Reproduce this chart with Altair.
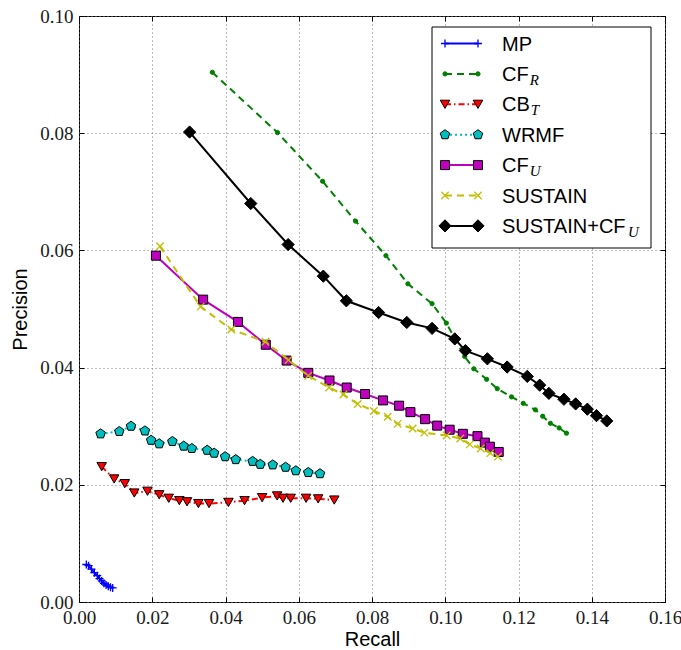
import altair as alt
import pandas as pd

# ---------------- data ----------------
mp_recall = [0.0020, 0.0026, 0.0034, 0.0042, 0.0050, 0.0056, 0.0062, 0.0068, 0.0074, 0.0080, 0.0086, 0.0092]
mp_prec = [0.0064, 0.0062, 0.0056, 0.0050, 0.0045, 0.0040, 0.0036, 0.0032, 0.0029, 0.0027, 0.0025, 0.0024]

cfr_recall = [0.0364, 0.0542, 0.0665, 0.0755, 0.0838, 0.0898, 0.0964, 0.1003, 0.1053, 0.1078,
              0.1113, 0.1142, 0.1181, 0.1213, 0.1246, 0.1266, 0.1287, 0.1311, 0.1331]
cfr_prec = [0.0904, 0.0801, 0.0718, 0.0650, 0.0591, 0.0543, 0.0509, 0.0476, 0.0419, 0.0398,
            0.0380, 0.0364, 0.0350, 0.0339, 0.0328, 0.0317, 0.0305, 0.0297, 0.0288]

cbt_recall = [0.0062, 0.0096, 0.0125, 0.0151, 0.0187, 0.0219, 0.0245, 0.0274, 0.0295, 0.0326,
              0.0355, 0.0408, 0.0452, 0.0500, 0.0541, 0.0557, 0.0578, 0.0620, 0.0653, 0.0697]
cbt_prec = [0.0231, 0.0210, 0.0202, 0.0186, 0.0189, 0.0183, 0.0177, 0.0173, 0.0171, 0.0168,
            0.0168, 0.0170, 0.0173, 0.0178, 0.0181, 0.0177, 0.0177, 0.0177, 0.0176, 0.0174]

wrmf_recall = [0.0059, 0.0110, 0.0142, 0.0180, 0.0197, 0.0219, 0.0255, 0.0286, 0.0308, 0.0350,
               0.0369, 0.0399, 0.0428, 0.0474, 0.0495, 0.0529, 0.0564, 0.0592, 0.0626, 0.0658]
wrmf_prec = [0.0287, 0.0291, 0.0300, 0.0292, 0.0276, 0.0270, 0.0274, 0.0266, 0.0262, 0.0259,
             0.0254, 0.0248, 0.0243, 0.0240, 0.0235, 0.0234, 0.0230, 0.0224, 0.0221, 0.0219]

cfu_recall = [0.0210, 0.0339, 0.0434, 0.0510, 0.0567, 0.0626, 0.0684, 0.0731, 0.0781, 0.0830,
              0.0874, 0.0905, 0.0945, 0.0978, 0.1012, 0.1048, 0.1088, 0.1108, 0.1122, 0.1146]
cfu_prec = [0.0591, 0.0516, 0.0478, 0.0439, 0.0412, 0.0391, 0.0378, 0.0366, 0.0355, 0.0344,
            0.0335, 0.0324, 0.0312, 0.0301, 0.0294, 0.0287, 0.0283, 0.0272, 0.0265, 0.0256]

sus_recall = [0.0221, 0.0332, 0.0416, 0.0509, 0.0572, 0.0626, 0.0683, 0.0722, 0.0761, 0.0805,
              0.0843, 0.0870, 0.0911, 0.0943, 0.1004, 0.1041, 0.1067, 0.1097, 0.1123, 0.1144]
sus_prec = [0.0607, 0.0504, 0.0465, 0.0444, 0.0413, 0.0386, 0.0366, 0.0354, 0.0338, 0.0326,
            0.0316, 0.0304, 0.0296, 0.0289, 0.0284, 0.0279, 0.0269, 0.0262, 0.0254, 0.0248]

suscfu_recall = [0.0302, 0.0469, 0.0571, 0.0667, 0.0730, 0.0818, 0.0895, 0.0964, 0.1026, 0.1055,
                 0.1115, 0.1169, 0.1224, 0.1258, 0.1283, 0.1324, 0.1356, 0.1388, 0.1413, 0.1441]
suscfu_prec = [0.0802, 0.0680, 0.0610, 0.0556, 0.0514, 0.0494, 0.0477, 0.0467, 0.0449, 0.0429,
               0.0415, 0.0401, 0.0385, 0.0370, 0.0356, 0.0346, 0.0338, 0.0329, 0.0318, 0.0309]

x_ticks = [0.0, 0.02, 0.04, 0.06, 0.08, 0.10, 0.12, 0.14, 0.16]
y_ticks = [0.0, 0.02, 0.04, 0.06, 0.08, 0.10]

# legend labels: (main text, subscript)
legend_labels = [("MP", ""), ("CF", "R"), ("CB", "T"), ("WRMF", ""), ("CF", "U"),
                 ("SUSTAIN", ""), ("SUSTAIN+CF", "U")]

# ---------------- styles ----------------
PLUS = "M-1,0L1,0M0,-1L0,1"
XMARK = "M-1,-1L1,1M-1,1L1,-1"
PENTA = "M0,-1L0.951,-0.309L0.588,0.809L-0.588,0.809L-0.951,-0.309Z"

series = [
    dict(r=mp_recall, p=mp_prec, color="#0000FF", dash=None, shape=PLUS, size=64, filled=False),
    dict(r=cfr_recall, p=cfr_prec, color="#008000", dash=[7, 5], shape="circle", size=18, filled=True, edge="#008000"),
    dict(r=cbt_recall, p=cbt_prec, color="#FF0000", dash=[6, 3, 1.5, 3], shape="triangle-down", size=90, filled=True, edge="black"),
    dict(r=wrmf_recall, p=wrmf_prec, color="#00BFBF", dash=[2, 3], shape=PENTA, size=100, filled=True, edge="black"),
    dict(r=cfu_recall, p=cfu_prec, color="#BF00BF", dash=None, shape="square", size=81, filled=True, edge="black"),
    dict(r=sus_recall, p=sus_prec, color="#BFBF00", dash=[7, 5], shape=XMARK, size=56, filled=False),
    dict(r=suscfu_recall, p=suscfu_prec, color="#000000", dash=None, shape="diamond", size=150, filled=True, edge="black"),
]

W, H = 586, 586
x_scale = alt.Scale(domain=[0, 0.16], nice=False, zero=False)
y_scale = alt.Scale(domain=[0, 0.10], nice=False, zero=False)

SERIF = "Liberation Serif"
SANS = "Liberation Sans"

x_axis_main = alt.Axis(values=x_ticks, format=".2f", title="Recall", grid=True,
                       gridDash=[1, 3], gridColor="#777777", gridWidth=1,
                       domain=False, ticks=True, tickSize=5, tickColor="black", tickWidth=1,
                       offset=-5, labelFont=SERIF, labelFontSize=19,
                       labelColor="#1a1a1a", labelPadding=6, labelFlush=False,
                       titleFont=SANS, titleFontSize=20, titleFontWeight="normal",
                       titleColor="black", titlePadding=2)
y_axis_main = alt.Axis(values=y_ticks, format=".2f", title="Precision", grid=True,
                       gridDash=[1, 3], gridColor="#777777", gridWidth=1,
                       domain=False, ticks=True, tickSize=5, tickColor="black", tickWidth=1,
                       offset=-5, labelFont=SERIF, labelFontSize=19,
                       labelColor="#1a1a1a", labelPadding=6, labelFlush=False,
                       titleFont=SANS, titleFontSize=20, titleFontWeight="normal",
                       titleColor="black", titlePadding=9)
x_axis_top = alt.Axis(orient="top", values=x_ticks, labels=False, domain=False, grid=False,
                      ticks=True, tickSize=5, tickColor="black", offset=-5, title=None)
y_axis_right = alt.Axis(orient="right", values=y_ticks, labels=False, domain=False, grid=False,
                        ticks=True, tickSize=5, tickColor="black", offset=-5, title=None)

layers = []
first = True
for s in series:
    df = pd.DataFrame({"recall": s["r"], "precision": s["p"], "i": list(range(len(s["r"])))})
    xa = x_axis_main if first else None
    ya = y_axis_main if first else None
    line_kw = dict(color=s["color"], strokeWidth=2)
    if s["dash"]:
        line_kw["strokeDash"] = s["dash"]
    line = alt.Chart(df).mark_line(**line_kw).encode(
        x=alt.X("recall:Q", scale=x_scale, axis=xa),
        y=alt.Y("precision:Q", scale=y_scale, axis=ya),
        order=alt.Order("i:Q"),
    )
    first = False
    if s["filled"]:
        pt_kw = dict(shape=s["shape"], size=s["size"], filled=True, fill=s["color"],
                     stroke=s["edge"], strokeWidth=1, opacity=1)
    else:
        pt_kw = dict(shape=s["shape"], size=s["size"], filled=False, stroke=s["color"],
                     strokeWidth=1.3, opacity=1)
    pts = alt.Chart(df).mark_point(**pt_kw).encode(
        x=alt.X("recall:Q", scale=x_scale, axis=None),
        y=alt.Y("precision:Q", scale=y_scale, axis=None),
    )
    layers += [line, pts]

# inward ticks on top / right
tick_df = pd.DataFrame({"recall": [0.0], "precision": [0.0]})
tick_layer = alt.Chart(tick_df).mark_point(opacity=0).encode(
    x=alt.X("recall:Q", scale=x_scale, axis=x_axis_top),
    y=alt.Y("precision:Q", scale=y_scale, axis=y_axis_right),
)
layers.append(tick_layer)

# ---------------- legend (pixel positions inside the plot area) ----------------
LX1, LX2, LXT = 366, 399, 423
LY0, LDY = 27.5, 30.4
layers.append(alt.Chart(tick_df).mark_rect(fill="white", stroke="black", strokeWidth=1).encode(
    x=alt.value(353), x2=alt.value(572), y=alt.value(11), y2=alt.value(232)))

main_widths = {"CF": 26.7, "CB": 27.8, "SUSTAIN+CF": 125.0}
for k, (s, (main, sub)) in enumerate(zip(series, legend_labels)):
    yk = LY0 + LDY * k
    ldf = pd.DataFrame({"px": [LX1, LX2], "py": [yk, yk], "i": [0, 1]})
    line_kw = dict(color=s["color"], strokeWidth=2)
    if s["dash"]:
        line_kw["strokeDash"] = s["dash"]
    layers.append(alt.Chart(ldf).mark_line(**line_kw).encode(
        x=alt.X("px:Q", scale=None, axis=None), y=alt.Y("py:Q", scale=None, axis=None),
        order=alt.Order("i:Q")))
    if s["filled"]:
        pt_kw = dict(shape=s["shape"], size=s["size"], filled=True, fill=s["color"],
                     stroke=s["edge"], strokeWidth=1, opacity=1)
    else:
        pt_kw = dict(shape=s["shape"], size=s["size"], filled=False, stroke=s["color"],
                     strokeWidth=1.3, opacity=1)
    layers.append(alt.Chart(ldf).mark_point(**pt_kw).encode(
        x=alt.X("px:Q", scale=None, axis=None), y=alt.Y("py:Q", scale=None, axis=None)))
    layers.append(alt.Chart(tick_df).mark_text(
        align="left", baseline="alphabetic", font=SANS, fontSize=20, color="black"
    ).encode(x=alt.value(LXT), y=alt.value(yk + 7), text=alt.value(main)))
    if sub:
        layers.append(alt.Chart(tick_df).mark_text(
            align="left", baseline="alphabetic", font=SERIF, fontSize=15,
            fontStyle="italic", color="black"
        ).encode(x=alt.value(LXT + main_widths[main] + 1), y=alt.value(yk + 11), text=alt.value(sub)))

chart = alt.layer(*layers).resolve_axis(x="independent", y="independent").properties(
    width=W, height=H,
    autosize=alt.AutoSizeParams(type="none"),
    padding={"left": 79, "top": 16, "right": 16, "bottom": 48},
    background="white",
).configure_view(stroke="black", strokeWidth=1).configure_axis(
    labelFont=SERIF, labelFontSize=19, titleFont=SANS, titleFontSize=20
)

chart.save("out.html", embed_options={"renderer": "svg", "actions": False})
